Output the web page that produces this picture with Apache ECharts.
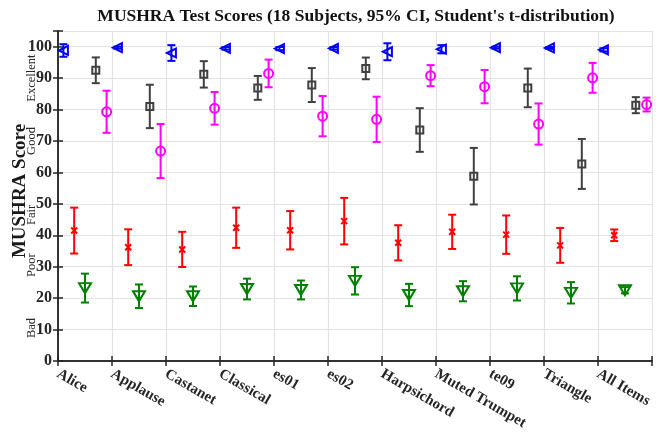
<!DOCTYPE html>
<html>
<head>
<meta charset="utf-8">
<script src="https://cdn.jsdelivr.net/npm/echarts@6/dist/echarts.min.js"></script>
<style>
  html, body { margin: 0; padding: 0; background: #ffffff; }
  #chart { width: 659px; height: 435px; }
</style>
</head>
<body>
<div id="chart"></div>
<script>
// Test items along the x axis
const categories = ['Alice', 'Applause', 'Castanet', 'Classical', 'es01', 'es02',
  'Harpsichord', 'Muted Trumpet', 'te09', 'Triangle', 'All Items'];

// Mean scores and 95% CI half-widths per condition
const refMean   = [98.8, 99.7, 98.0, 99.5, 99.4, 99.5, 98.4, 99.2, 99.7, 99.6, 99.0];
const refCi     = [2.0, 0.3, 2.5, 0.4, 0.5, 0.4, 2.7, 1.3, 0.3, 0.3, 0.5];

const lowMean   = [41.5, 36.2, 35.5, 42.4, 41.6, 44.5, 37.6, 41.1, 40.2, 36.8, 40.0];
const lowCi     = [7.3, 5.7, 5.6, 6.4, 6.1, 7.4, 5.6, 5.45, 6.1, 5.55, 1.85];

const anchorMean = [23.2, 20.6, 20.6, 22.9, 22.6, 25.5, 21.0, 22.2, 23.1, 21.7, 22.5];
const anchorCi   = [4.6, 3.75, 3.1, 3.3, 3.0, 4.35, 3.55, 3.2, 3.85, 3.4, 1.0];

const codecAMean = [92.5, 81.0, 91.2, 86.9, 87.8, 93.1, 73.5, 58.8, 86.9, 62.7, 81.4];
const codecACi   = [4.1, 6.9, 4.2, 3.8, 5.4, 3.45, 6.95, 9.0, 6.15, 7.95, 2.55];

const codecBMean = [79.3, 66.8, 80.4, 91.5, 77.9, 76.9, 90.8, 87.3, 75.4, 90.1, 81.6];
const codecBCi   = [6.7, 8.6, 5.2, 4.4, 6.4, 7.2, 3.35, 5.3, 6.55, 4.75, 2.2];

// Verbal scale labels on the left and where they sit on the score axis
const qualityLabels = ['Bad', 'Poor', 'Fair', 'Good', 'Excellent'];
const qualityPos    = [10.5, 30.5, 46.5, 70, 90];

const yTicks = [0, 10, 20, 30, 40, 50, 60, 70, 80, 90, 100];

const SERIF = "'Liberation Serif', 'Times New Roman', serif";
const AXIS_COLOR = '#262626';

const conditions = [
  { name: 'Reference', mean: refMean, ci: refCi, offset: 0.1, color: '#0000ff',
    symbol: 'triangle', size: [9, 9], rotate: 90 },
  { name: 'Low anchor', mean: lowMean, ci: lowCi, offset: 0.3, color: '#ff0000',
    symbol: 'path://M0,0L10,10M10,0L0,10', size: 6, rotate: 0 },
  { name: 'Anchor', mean: anchorMean, ci: anchorCi, offset: 0.5, color: '#008000',
    symbol: 'triangle', size: [12, 10], rotate: 180 },
  { name: 'Codec A', mean: codecAMean, ci: codecACi, offset: 0.7, color: '#404040',
    symbol: 'rect', size: 7, rotate: 0 },
  { name: 'Codec B', mean: codecBMean, ci: codecBCi, offset: 0.9, color: '#ff00ff',
    symbol: 'circle', size: 9, rotate: 0 }
];

function errorBars(c) {
  return {
    type: 'custom',
    name: c.name + ' CI',
    silent: true,
    z: 2,
    encode: { x: 0, y: 1 },
    data: c.mean.map((m, i) => [i + c.offset, m, c.ci[i]]),
    renderItem(params, api) {
      const x = api.value(0), m = api.value(1), h = api.value(2);
      const hi = api.coord([x, m + h]);
      const lo = api.coord([x, m - h]);
      const w = 4;
      const st = { stroke: c.color, lineWidth: 2 };
      return {
        type: 'group',
        children: [
          { type: 'line', shape: { x1: hi[0], y1: hi[1], x2: lo[0], y2: lo[1] }, style: st },
          { type: 'line', shape: { x1: hi[0] - w, y1: hi[1], x2: hi[0] + w, y2: hi[1] }, style: st },
          { type: 'line', shape: { x1: lo[0] - w, y1: lo[1], x2: lo[0] + w, y2: lo[1] }, style: st }
        ]
      };
    }
  };
}

function markers(c) {
  return {
    type: 'scatter',
    name: c.name,
    z: 3,
    symbol: c.symbol,
    symbolSize: c.size,
    symbolRotate: c.rotate,
    data: c.mean.map((m, i) => [i + c.offset, m]),
    itemStyle: { color: 'rgba(0,0,0,0)', borderColor: c.color, borderWidth: 2, opacity: 1 },
    emphasis: { disabled: true }
  };
}

const series = [];
conditions.forEach(c => { series.push(errorBars(c)); series.push(markers(c)); });

const chart = echarts.init(document.getElementById('chart'), null, { renderer: 'canvas' });

const yBase = {
  type: 'value', min: 0, max: 105, interval: 10
};

chart.setOption({
  animation: false,
  backgroundColor: '#ffffff',
  grid: { left: 58, right: 7, top: 31, bottom: 74, containLabel: false },
  xAxis: [
    {
      type: 'value', min: 0, max: categories.length, interval: 1,
      axisLine: { show: true, lineStyle: { color: AXIS_COLOR, width: 1.5 } },
      axisTick: { show: true, inside: true, length: 5, lineStyle: { color: AXIS_COLOR, width: 1.5 } },
      axisLabel: {
        rotate: -30, margin: 12,
        fontFamily: SERIF, fontWeight: 'bold', fontSize: 15, color: AXIS_COLOR,
        showMaxLabel: true,
        formatter: v => (Number.isInteger(v) && v < categories.length) ? categories[v] : ''
      },
      splitLine: { show: true, lineStyle: { color: '#e3e3e3', width: 1.2 } }
    },
    {
      type: 'value', position: 'top', min: 0, max: categories.length, interval: 1,
      axisLine: { show: true, lineStyle: { color: AXIS_COLOR, width: 1.5 } },
      axisTick: { show: true, inside: true, length: 5, lineStyle: { color: AXIS_COLOR, width: 1.5 } },
      axisLabel: { show: false },
      splitLine: { show: false }
    }
  ],
  yAxis: [
    Object.assign({}, yBase, {
      position: 'left',
      axisLine: { show: true, lineStyle: { color: AXIS_COLOR, width: 1.5 } },
      axisTick: { show: true, inside: true, length: 5, lineStyle: { color: AXIS_COLOR, width: 1.5 } },
      axisLabel: {
        margin: 6, fontFamily: SERIF, fontWeight: 'bold', fontSize: 16, color: AXIS_COLOR,
        formatter: v => (yTicks.indexOf(v) >= 0 ? String(v) : '')
      },
      splitLine: { show: true, lineStyle: { color: '#e3e3e3', width: 1.2 } }
    }),
    Object.assign({}, yBase, {
      position: 'right',
      axisLine: { show: true, lineStyle: { color: AXIS_COLOR, width: 1.5 } },
      axisTick: { show: true, inside: true, length: 5, lineStyle: { color: AXIS_COLOR, width: 1.5 } },
      axisLabel: { show: false },
      splitLine: { show: false }
    })
  ],
  series: series
});

// Verbal scale, axis title and chart title
const graphics = qualityLabels.map((t, i) => {
  const y = chart.convertToPixel({ yAxisIndex: 0 }, qualityPos[i]);
  return {
    type: 'text', x: 32, y: y, rotation: Math.PI / 2,
    style: {
      text: t, fontFamily: SERIF, fontSize: 12.5, fill: AXIS_COLOR,
      textAlign: 'center', textVerticalAlign: 'middle'
    },
    z: 10
  };
});
graphics.push({
  type: 'text', x: 20, y: 191, rotation: Math.PI / 2,
  style: {
    text: 'MUSHRA Score', fontFamily: SERIF, fontWeight: 'bold', fontSize: 19, fill: '#1a1a1a',
    textAlign: 'center', textVerticalAlign: 'middle'
  },
  z: 9
});
graphics.push({
  type: 'text', x: 356, y: 16,
  style: {
    text: "MUSHRA Test Scores (18 Subjects, 95% CI, Student's t-distribution)",
    fontFamily: SERIF, fontWeight: 'bold', fontSize: 17.5, fill: '#111111',
    textAlign: 'center', textVerticalAlign: 'middle'
  },
  z: 10
});
chart.setOption({ graphic: graphics });
</script>
</body>
</html>
